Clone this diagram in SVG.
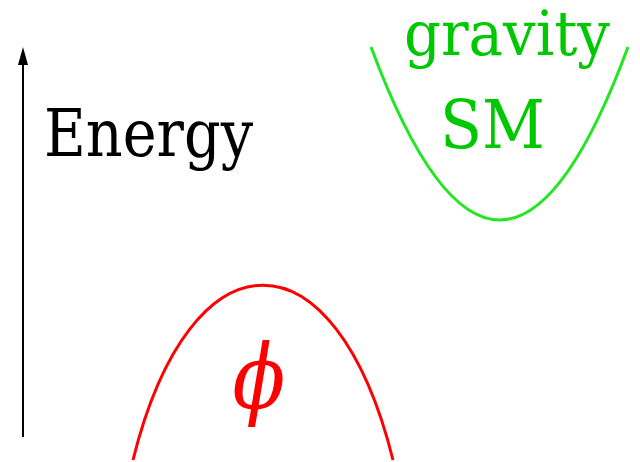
<svg xmlns="http://www.w3.org/2000/svg" width="640" height="462" viewBox="0 0 640 462">
<style>
.c{fill:none;stroke-width:3}
.t{font-family:'DejaVu Serif',serif}
</style>
<rect width="640" height="462" fill="#fff"/>
<g id="axis">
<line x1="23" y1="60" x2="23" y2="437" stroke="#000" stroke-width="2"/>
<polygon points="23,47 28,65 18,65" fill="#000"/>
</g>
<g id="energy"><text class="t" font-size="66" x="44" y="156" fill="#000" textLength="209" lengthAdjust="spacingAndGlyphs">Energy</text></g>
<g id="gravity-sm">
<path class="c" d="M371,47 Q500,393 628,47" stroke="#22e622"/>
<text class="t" font-size="62" x="404" y="55" fill="#00c800" textLength="206" lengthAdjust="spacingAndGlyphs">gravity</text>
<text class="t" font-size="68" x="440" y="148" fill="#00c800" textLength="105" lengthAdjust="spacingAndGlyphs">SM</text>
</g>
<g id="phi">
<path class="c" d="M133,460 C191,227 335,227 393,460" stroke="#ff0000"/>
<text class="t" transform="translate(259,408) scale(0.86,1)" x="0" y="0" fill="#ff0000" text-anchor="middle" font-style="italic" font-size="90">ϕ</text>
</g>
</svg>
